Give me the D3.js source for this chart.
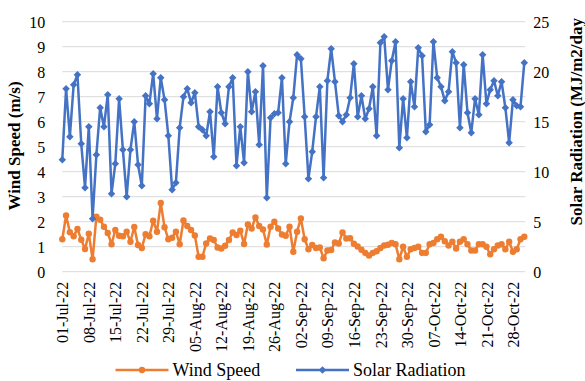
<html>
<script src='https://d3js.org/d3.v7.min.js'></script>
<style>
body {margin:0; background:white;}
text {font-family: "Times New Roman", "Liberation Serif", serif;}
</style>
<body>
<svg width=585 height=381></svg>
<script>

// daily values, 01-Jul-22 .. 31-Oct-22
var windSpeed = [1.3,2.25,1.58,1.42,1.71,1.28,0.91,1.52,0.5,2.2,
2.08,1.8,1.55,1.1,1.67,1.44,1.42,1.6,1.2,1.79,
1.07,0.95,1.5,1.42,2.04,1.6,2.75,1.78,1.3,1.36,
1.6,1.1,2.05,1.83,1.67,1.45,0.6,0.6,1.13,1.33,
1.27,0.97,0.93,1.04,1.27,1.57,1.47,1.64,1.11,1.89,
1.73,2.17,1.83,1.69,1.09,1.8,2.0,1.73,1.49,1.44,
1.8,0.8,1.6,2.13,1.3,0.9,1.07,0.95,0.97,0.54,
0.85,0.87,1.17,1.13,1.57,1.33,1.34,1.12,1.01,0.88,
0.75,0.65,0.75,0.82,0.95,1.05,1.08,1.15,1.1,0.5,
1.0,0.6,0.9,0.95,1.0,0.75,0.75,1.1,1.15,1.3,
1.4,1.22,1.05,1.2,0.93,1.2,1.3,1.1,0.85,0.85,
1.1,1.1,1.0,0.7,0.9,1.05,1.1,0.9,1.2,0.8,
0.9,1.3,1.4];

var solarRad = [11.2,18.3,13.5,18.7,19.7,12.8,8.4,14.5,5.3,11.7,
16.4,14.5,17.7,7.8,10.8,17.3,12.2,7.5,12.2,15.0,
10.7,8.6,17.6,16.8,19.8,15.3,19.4,17.2,13.6,8.2,
8.9,14.4,17.5,18.3,16.9,17.9,14.5,14.2,13.6,16.0,
11.5,18.5,15.9,14.8,18.5,19.4,10.6,14.5,10.9,20.0,
16.0,18.0,12.7,20.6,7.4,15.4,15.8,15.9,19.4,10.8,
15.0,17.4,21.7,21.3,15.5,9.3,12.0,15.5,18.5,9.4,
19.1,22.3,19.0,15.6,15.0,15.7,17.4,20.8,15.5,17.6,
15.3,16.3,18.5,13.6,22.9,23.5,18.2,21.1,23.0,12.4,
17.3,13.4,19.0,16.5,22.4,21.6,14.0,14.7,23.0,19.4,
18.5,17.1,18.0,22.0,20.9,14.4,20.7,15.9,13.9,17.3,
15.7,21.7,16.8,18.2,19.1,17.6,19.0,16.4,12.9,17.2,
16.6,16.5,20.9];

var windTicks = [0,1,2,3,4,5,6,7,8,9,10];
var solarTicks = [0,5,10,15,20,25];
var seriesNames = ["Wind Speed","Solar Radiation"];
var seriesColors = ["#ED7D31","#4472C4"];

function draw() {
var dates = d3.timeDay.range(new Date(2022,6,1), new Date(2022,10,1));
var tickDates = dates.filter(function(d,i){ return i%7==0; });

var svg = d3.select("svg");
var left = 62.3, right = 524.3, plotTop = 21.7, bottom = 271.7;

var x = d3.scaleTime().domain([dates[0], dates[dates.length-1]]).range([left,right]);
var yL = d3.scaleLinear().domain([0,10]).range([bottom,plotTop]);
var yR = d3.scaleLinear().domain([0,25]).range([bottom,plotTop]);

// gridlines
svg.append("g").selectAll("line").data(windTicks).enter().append("line")
.attr("x1",left).attr("x2",right+1)
.attr("y1",function(d){return yL(d);}).attr("y2",function(d){return yL(d);})
.style("stroke","#d9d9d9").style("stroke-width",1);

// left axis
var gl = svg.append("g").attr("transform","translate("+(left-13)+",0)")
.call(d3.axisLeft(yL).tickValues(windTicks).tickSize(0).tickPadding(4));
gl.select(".domain").remove();
gl.selectAll("text").style("font-size","16px").style("fill","#000").attr("dy","0.35em");

// right axis
var gr = svg.append("g").attr("transform","translate("+(right+5)+",0)")
.call(d3.axisRight(yR).tickValues(solarTicks).tickSize(0).tickPadding(4));
gr.select(".domain").remove();
gr.selectAll("text").style("font-size","16px").style("fill","#000").attr("dy","0.35em");

// bottom axis
var gb = svg.append("g").attr("transform","translate(0,"+(bottom+7)+")")
.call(d3.axisBottom(x).tickValues(tickDates).tickFormat(d3.timeFormat("%d-%b-%y")).tickSize(0));
gb.select(".domain").remove();
gb.selectAll("text")
.style("font-size","16px").style("fill","#000")
.attr("text-anchor","end")
.attr("transform","rotate(-90)")
.attr("x",-3).attr("y",0).attr("dy","0.35em");

// lines
var windLine = d3.line().x(function(d,i){return x(dates[i]);}).y(function(d){return yL(d);});
var solarLine = d3.line().x(function(d,i){return x(dates[i]);}).y(function(d){return yR(d);});

svg.append("path").datum(windSpeed).attr("d",windLine)
.style("fill","none").style("stroke",seriesColors[0]).style("stroke-width",2.5).style("stroke-linejoin","round");
svg.append("g").selectAll("circle").data(windSpeed).enter().append("circle")
.attr("cx",function(d,i){return x(dates[i]);}).attr("cy",function(d){return yL(d);})
.attr("r",3.2).style("fill",seriesColors[0]);

svg.append("path").datum(solarRad).attr("d",solarLine)
.style("fill","none").style("stroke",seriesColors[1]).style("stroke-width",2.5).style("stroke-linejoin","round");
var diamond = d3.symbol().type(d3.symbolSquare).size(28);
svg.append("g").selectAll("path").data(solarRad).enter().append("path")
.attr("d",diamond)
.attr("transform",function(d,i){return "translate("+x(dates[i])+","+yR(d)+") rotate(45)";})
.style("fill",seriesColors[1]);

// axis titles
svg.append("text").attr("transform","translate(20,146) rotate(-90)")
.attr("text-anchor","middle").style("font-size","17px").style("font-weight","bold")
.text("Wind Speed (m/s)");
svg.append("text").attr("transform","translate(582,18) rotate(-90)")
.attr("text-anchor","end").style("font-size","17px").style("font-weight","bold")
.text("Solar Radiation (MJ/m2/day");

// legend
var legX = [115.5, 296];
var legend = svg.append("g").selectAll("g").data(seriesNames).enter().append("g")
.attr("transform",function(d,i){return "translate("+legX[i]+",370)";});
legend.append("line").attr("x1",0).attr("x2",53).attr("y1",0).attr("y2",0)
.style("stroke",function(d,i){return seriesColors[i];}).style("stroke-width",2.5);
legend.filter(function(d,i){return i==0;}).append("circle").attr("cx",26.5).attr("cy",0).attr("r",3.2)
.style("fill",seriesColors[0]);
legend.filter(function(d,i){return i==1;}).append("path").attr("d",diamond)
.attr("transform","translate(26.5,0) rotate(45)").style("fill",seriesColors[1]);
legend.append("text").attr("x",57).attr("y",0).attr("dy","0.35em")
.style("font-size","18px").text(function(d){return d;});
}
draw();
</script>
</body>
</html>
